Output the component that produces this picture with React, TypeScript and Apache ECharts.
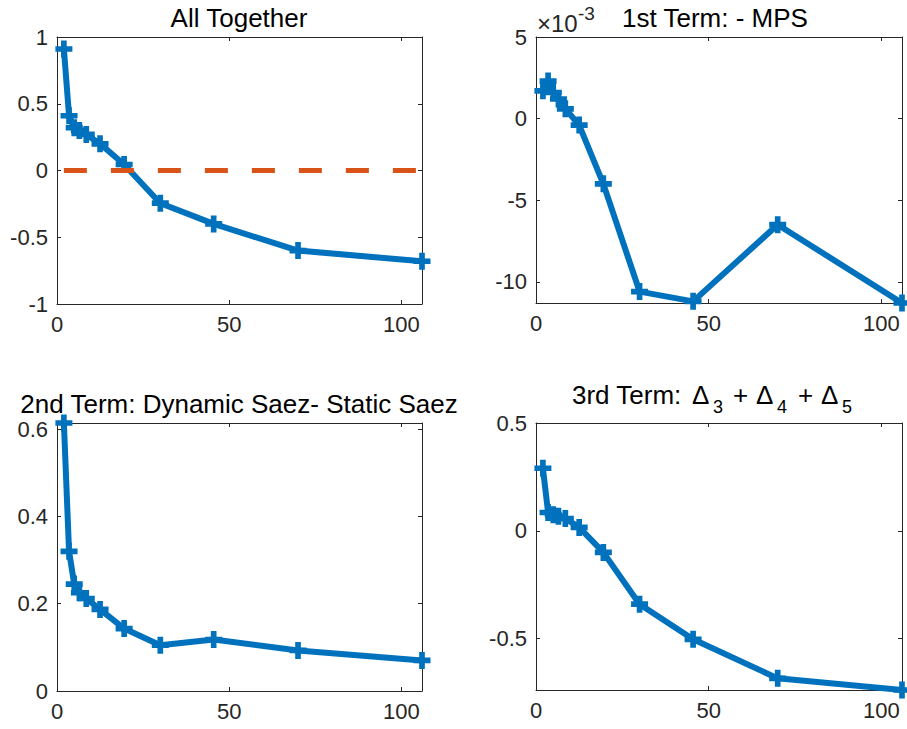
import React, { useEffect, useRef } from "react";
import * as echarts from "echarts";

// ---- data ----
const xValues = [2, 3.5, 5, 6.5, 8.5, 12.5, 19.5, 30, 45.5, 70, 106];
const allTogether = [0.91, 0.41, 0.32, 0.3, 0.27, 0.2, 0.045, -0.245, -0.4, -0.6, -0.68];
const mpsTimes1e3 = [1.7, 2.3, 1.6, 1.2, 0.6, -0.4, -4.0, -10.6, -11.2, -6.5, -11.3];
const dynamicMinusStatic = [0.614, 0.32, 0.245, 0.225, 0.212, 0.187, 0.143, 0.105, 0.118, 0.093, 0.07];
const thirdTerm = [0.29, 0.085, 0.075, 0.068, 0.057, 0.016, -0.1, -0.34, -0.503, -0.684, -0.738];
const zeroRef = 0;

const xTicks = [0, 50, 100];
const yTicks1 = [-1, -0.5, 0, 0.5, 1];
const yTicks2 = [-10, -5, 0, 5];
const yTicks3 = [0, 0.2, 0.4, 0.6];
const yTicks4 = [-0.5, 0, 0.5];

const title1 = "All Together";
const title2 = "1st Term: - MPS";
const title3 = "2nd Term: Dynamic Saez- Static Saez";

const BLUE = "#0072BD";
const ORANGE = "#D95319";
const AX = "#262626";
const FONT = "'Liberation Sans', Helvetica, Arial, sans-serif";
const TICK_FS = 22;
const TITLE_FS = 26;
const PLUS = "path://M1,0H2V1H3V2H2V3H1V2H0V1H1Z";

export default function App() {
  const ref = useRef<HTMLDivElement>(null);

  useEffect(() => {
    if (!ref.current) return;
    const chart = echarts.init(ref.current, undefined, { renderer: "svg" });

    const xMax = xValues[xValues.length - 1];
    const panels = [
      { grid: { left: 57, top: 37, width: 365, height: 267 }, ys: allTogether, yMin: -1, yMax: 1, yTicks: yTicks1 },
      { grid: { left: 536, top: 37, width: 366, height: 266 }, ys: mpsTimes1e3, yMin: Math.min(...mpsTimes1e3), yMax: 5, yTicks: yTicks2 },
      { grid: { left: 57, top: 423, width: 365, height: 268 }, ys: dynamicMinusStatic, yMin: 0, yMax: Math.max(...dynamicMinusStatic), yTicks: yTicks3 },
      { grid: { left: 536, top: 423, width: 366, height: 267 }, ys: thirdTerm, yMin: Math.min(...thirdTerm), yMax: 0.5, yTicks: yTicks4 },
    ];

    const lineStyle = { color: AX, width: 1 };
    const labelStyle = { fontSize: TICK_FS, color: AX, fontFamily: FONT };

    const grid: any[] = [];
    const xAxis: any[] = [];
    const yAxis: any[] = [];
    const series: any[] = [];

    panels.forEach((p, i) => {
      grid.push({ ...p.grid, containLabel: false });
      ["bottom", "top"].forEach((pos, k) => {
        xAxis.push({
          gridIndex: i,
          type: "value",
          position: pos,
          min: 0,
          max: xMax,
          axisLine: { show: true, onZero: false, lineStyle },
          axisTick: { show: true, inside: true, length: 4, customValues: xTicks, lineStyle },
          axisLabel: { show: k === 0, customValues: xTicks, margin: 9, ...labelStyle },
          splitLine: { show: false },
        });
      });
      ["left", "right"].forEach((pos, k) => {
        yAxis.push({
          gridIndex: i,
          type: "value",
          position: pos,
          min: p.yMin,
          max: p.yMax,
          axisLine: { show: true, onZero: false, lineStyle },
          axisTick: { show: true, inside: true, length: 4, customValues: p.yTicks, lineStyle },
          axisLabel: { show: k === 0, customValues: p.yTicks, margin: 9, ...labelStyle },
          splitLine: { show: false },
        });
      });
      series.push({
        type: "line",
        xAxisIndex: 2 * i,
        yAxisIndex: 2 * i,
        data: xValues.map((x, j) => [x, p.ys[j]]),
        symbol: PLUS,
        symbolSize: 17,
        showAllSymbol: true,
        clip: false,
        silent: true,
        itemStyle: { color: BLUE },
        lineStyle: { color: BLUE, width: 6, join: "round" },
        emphasis: { disabled: true },
      });
    });

    // dashed zero reference line in the first panel
    series.push({
      type: "line",
      xAxisIndex: 0,
      yAxisIndex: 0,
      data: [
        [xValues[0], zeroRef],
        [xMax, zeroRef],
      ],
      symbol: "none",
      silent: true,
      z: 5,
      lineStyle: { color: ORANGE, width: 5, type: [23, 24], cap: "butt" },
      emphasis: { disabled: true },
    });

    const txt = (text: string, x: number, baseline: number, fs: number, align: string = "left", fill: string = "#000") => ({
      type: "text",
      x,
      y: baseline - 0.3465 * fs,
      silent: true,
      style: {
        text,
        fontSize: fs,
        fontFamily: FONT,
        fill,
        textAlign: align,
        textVerticalAlign: "middle",
        verticalAlign: "middle",
      },
    });

    const SUB = 18;
    const graphic: any[] = [
      txt(title1, 239, 26.7, TITLE_FS, "center"),
      txt(title2, 715, 26.7, TITLE_FS, "center"),
      txt(title3, 239, 413.3, TITLE_FS, "center"),
      // 3rd term title with subscripts
      txt("3rd Term:", 572, 404, TITLE_FS),
      txt("\u0394", 692, 404, TITLE_FS),
      txt("3", 713, 413.5, SUB),
      txt("+", 733, 404, TITLE_FS),
      txt("\u0394", 756, 404, TITLE_FS),
      txt("4", 777, 413.5, SUB),
      txt("+", 798, 404, TITLE_FS),
      txt("\u0394", 821, 404, TITLE_FS),
      txt("5", 842, 413.5, SUB),
      // exponent label of panel 2
      txt("\u00d710", 537, 31.7, 24, "left", AX),
      txt("-3", 578, 20, 19, "left", AX),
    ];

    chart.setOption({
      animation: false,
      backgroundColor: "#fff",
      grid,
      xAxis,
      yAxis,
      series,
      graphic,
    });

    return () => chart.dispose();
  }, []);

  return (
    <div
      ref={ref}
      style={{ position: "absolute", left: 0, top: 0, width: 907, height: 729 }}
    />
  );
}
